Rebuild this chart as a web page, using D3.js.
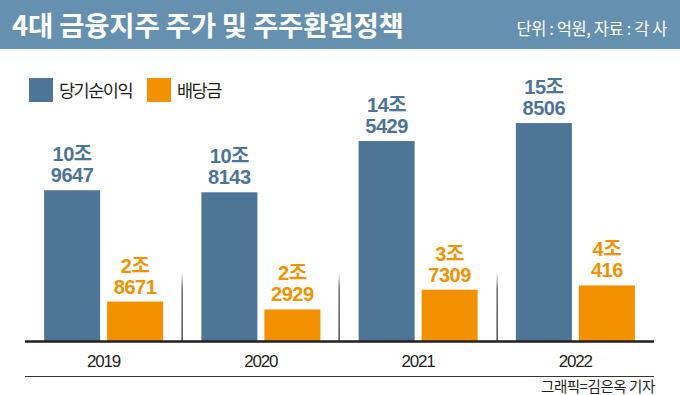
<!DOCTYPE html>
<html>
<head>
<meta charset="utf-8">
<script src="https://cdn.jsdelivr.net/npm/d3@7"></script>
<style>
  body { margin: 0; background: #fff; }
  svg { display: block; font-family: "Liberation Sans", "Noto Sans CJK KR", sans-serif; }
</style>
</head>
<body>
<div id="chart"></div>
<script>
// data (단위: 억원)
const years = ["2019", "2020", "2021", "2022"];
const seriesNames = ["당기순이익", "배당금"];
const netIncome = [109647, 108143, 145429, 158506];
const dividends = [28671, 22929, 37309, 40416];
const colors = ["#4d7595", "#f39100"];
const labelColors = ["#4b7497", "#f39100"];

const width = 680, height = 395;
const baseY = 341;

const svg = d3.select("#chart").append("svg")
    .attr("width", width)
    .attr("height", height);

// header band
svg.append("rect")
    .attr("x", 0).attr("y", 0)
    .attr("width", width).attr("height", 49)
    .attr("fill", "#6590b0");
svg.append("text")
    .attr("x", 12).attr("y", 36)
    .attr("fill", "#fff")
    .style("font-family", "'Noto Sans CJK KR', sans-serif")
    .style("font-weight", "bold")
    .style("font-size", "27.5px")
    .style("letter-spacing", "-0.2px")
    .text("4대 금융지주 주가 및 주주환원정책");
svg.append("text")
    .attr("x", 667).attr("y", 35)
    .attr("text-anchor", "end")
    .attr("fill", "#fff")
    .style("font-family", "'Noto Sans CJK KR', sans-serif")
    .style("font-size", "16.5px")
    .style("letter-spacing", "-0.4px")
    .text("단위 : 억원, 자료 : 각 사");

// legend
const legend = svg.append("g");
const legendX = [29, 147];
seriesNames.forEach((name, i) => {
    legend.append("rect")
        .attr("x", legendX[i]).attr("y", 78)
        .attr("width", 24).attr("height", 24)
        .attr("fill", colors[i]);
    legend.append("text")
        .attr("x", legendX[i] + 30).attr("y", 97)
        .attr("fill", "#231f20")
        .style("font-family", "'Noto Sans CJK KR', sans-serif")
        .style("font-size", "17.5px")
        .style("letter-spacing", "-1.5px")
        .text(name);
});

// scales
const x = d3.scaleBand()
    .domain(years)
    .range([25, 654])
    .paddingInner(0.243)
    .paddingOuter(0.1215);

const xSub = d3.scaleBand()
    .domain([0, 1])
    .range([0, x.bandwidth()])
    .paddingInner(0.111);

const y = d3.scaleLinear()
    .domain([0, 160000])
    .range([baseY, 121]);

// separators between groups (fade toward top)
const defs = svg.append("defs");
const grad = defs.append("linearGradient")
    .attr("id", "sepGrad")
    .attr("x1", 0).attr("y1", 0).attr("x2", 0).attr("y2", 1);
grad.append("stop").attr("offset", "0%").attr("stop-color", "#5b5252").attr("stop-opacity", 0);
grad.append("stop").attr("offset", "25%").attr("stop-color", "#5b5252").attr("stop-opacity", 1);
grad.append("stop").attr("offset", "100%").attr("stop-color", "#3a3232").attr("stop-opacity", 1);

years.slice(1).forEach(yr => {
    const sx = x(yr) - x.step() * x.paddingInner() / 2;
    svg.append("rect")
        .attr("x", Math.round(sx) - 0.5)
        .attr("y", 272)
        .attr("width", 1.3)
        .attr("height", baseY - 272)
        .attr("fill", "url(#sepGrad)");
});

// bars
const table = years.map((yr, i) => ({ year: yr, values: [netIncome[i], dividends[i]] }));

const groups = svg.selectAll(".group")
    .data(table)
    .enter().append("g")
    .attr("class", "group")
    .attr("transform", d => `translate(${x(d.year)},0)`);

groups.selectAll("rect")
    .data(d => d.values.map((v, k) => ({ k, v })))
    .enter().append("rect")
    .attr("x", d => xSub(d.k))
    .attr("y", d => y(d.v))
    .attr("width", xSub.bandwidth())
    .attr("height", d => baseY - y(d.v))
    .attr("fill", d => colors[d.k]);

// value labels: "10조" / "9647"
const labels = groups.selectAll(".val")
    .data(d => d.values.map((v, k) => ({ k, v })))
    .enter().append("g")
    .attr("class", "val")
    .attr("fill", d => labelColors[d.k])
    .style("font-weight", "bold")
    .style("font-size", "20px")
    .attr("text-anchor", "middle");

labels.append("text")
    .attr("x", d => xSub(d.k) + xSub.bandwidth() / 2)
    .attr("y", d => y(d.v) - 29)
    .style("letter-spacing", "-0.5px")
    .text(d => Math.floor(d.v / 10000) + "조");

labels.append("text")
    .attr("x", d => xSub(d.k) + xSub.bandwidth() / 2)
    .attr("y", d => y(d.v) - 8)
    .style("letter-spacing", "-0.5px")
    .text(d => String(d.v % 10000));

// baseline
svg.append("line")
    .attr("x1", 25).attr("x2", 654)
    .attr("y1", baseY + 0.5).attr("y2", baseY + 0.5)
    .attr("stroke", "#231f20")
    .attr("stroke-width", 2.5);

// year labels via axis
const axis = svg.append("g")
    .attr("transform", `translate(0,${baseY})`)
    .call(d3.axisBottom(x).tickSize(0).tickPadding(0));
axis.select(".domain").remove();
axis.selectAll("text")
    .attr("y", 25.5)
    .attr("dy", 0)
    .attr("fill", "#231f20")
    .style("font-family", "'Liberation Sans', sans-serif")
    .style("font-size", "17px")
    .style("letter-spacing", "-1.2px");

// footer
svg.append("line")
    .attr("x1", 25).attr("x2", 654)
    .attr("y1", 376.5).attr("y2", 376.5)
    .attr("stroke", "#3a3333")
    .attr("stroke-width", 1);
svg.append("text")
    .attr("x", 655).attr("y", 392)
    .attr("text-anchor", "end")
    .attr("fill", "#231f20")
    .style("font-family", "'Noto Sans CJK KR', sans-serif")
    .style("font-size", "14.5px")
    .style("letter-spacing", "-0.4px")
    .text("그래픽=김은옥 기자");
</script>
</body>
</html>
